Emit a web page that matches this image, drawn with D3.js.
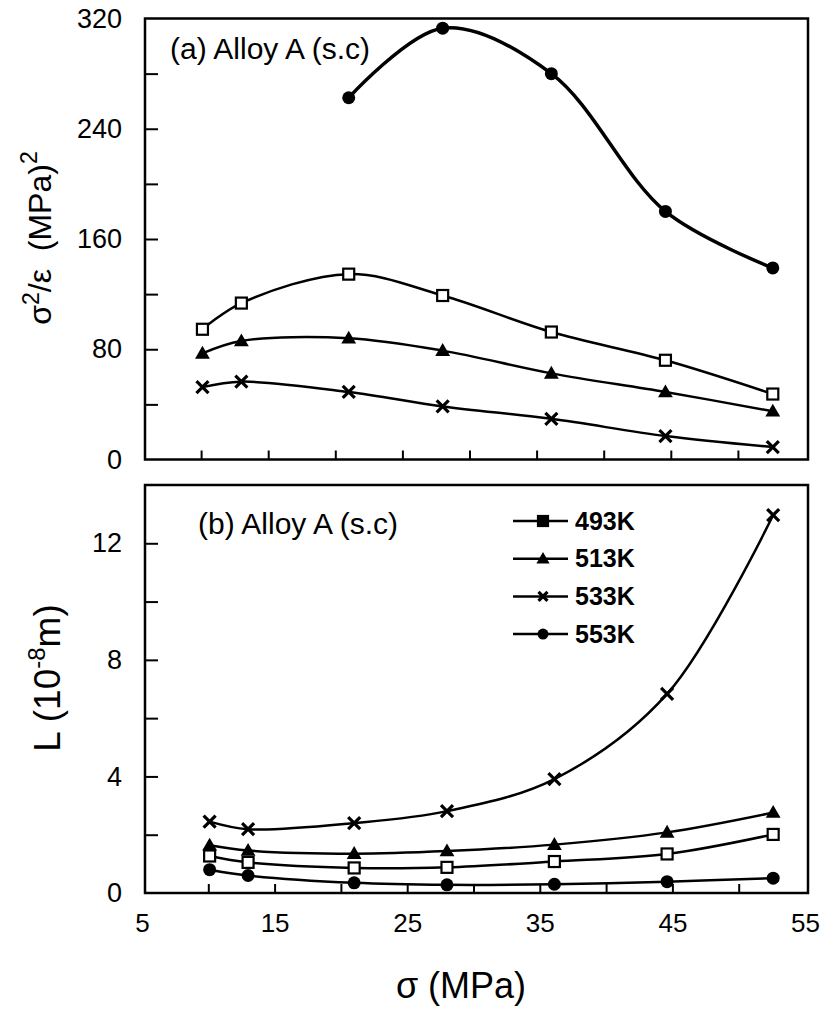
<!DOCTYPE html>
<html>
<head>
<meta charset="utf-8">
<script src="https://cdn.jsdelivr.net/npm/d3@7"></script>
<style>
  body { margin: 0; background: #fff; }
  text { font-family: "Liberation Sans", Arial, sans-serif; fill: #000; }
</style>
</head>
<body>
<div id="chart"></div>
<script>
// stress values (MPa)
var sigma = [10.1, 13.0, 21.0, 28.0, 36.1, 44.6, 52.6];
var series = ["493K", "513K", "533K", "553K"];

// (a) sigma^2 / epsilon  (MPa)^2
var ratio493 = [94.5, 113.5, 134.5, 119, 92.5, 72, 47.5];
var ratio513 = [77, 86, 88, 79, 62.5, 49, 35];
var ratio533 = [52.5, 56.5, 49, 38.5, 29.5, 17, 9];
var ratio553 = [null, null, 262.5, 313, 280, 180, 139];

// (b) L (10^-8 m)
var len493 = [1.27, 1.05, 0.86, 0.88, 1.08, 1.34, 2.01];
var len513 = [1.64, 1.46, 1.35, 1.44, 1.66, 2.08, 2.76];
var len533 = [2.45, 2.19, 2.40, 2.81, 3.91, 6.83, 12.97];
var len553 = [0.80, 0.60, 0.35, 0.28, 0.30, 0.39, 0.51];

var xTicks = [10, 15, 20, 25, 30, 35, 40, 45, 50];
var xLabels = [5, 15, 25, 35, 45, 55];
var ratioTicks = [40, 80, 120, 160, 200, 240, 280];
var ratioLabels = [0, 80, 160, 240, 320];
var lenTicks = [2, 4, 6, 8, 10, 12];
var lenLabels = [0, 4, 8, 12];

var width = 823, height = 1010;
var frame = { left: 145, right: 808 };

var svg = d3.select("#chart")
  .append("svg")
  .attr("width", width)
  .attr("height", height);

// marker shapes
function drawMarker(g, kind, x, y, legend) {
  if (kind === "square") {
    var s = legend ? 10 : 11;
    g.append("rect")
      .attr("x", x - s / 2).attr("y", y - s / 2)
      .attr("width", s).attr("height", s)
      .attr("fill", legend ? "#000" : "#fff")
      .attr("stroke", "#000").attr("stroke-width", 2.2);
  } else if (kind === "triangle") {
    g.append("path")
      .attr("transform", "translate(" + x + "," + (y + 1) + ")")
      .attr("d", d3.symbol().type(d3.symbolTriangle).size(legend ? 75 : 95)())
      .attr("fill", "#000");
  } else if (kind === "cross") {
    var r = legend ? 4.5 : 6;
    g.append("path")
      .attr("d", "M" + (x - r) + "," + (y - r) + "L" + (x + r) + "," + (y + r) +
                 "M" + (x - r) + "," + (y + r) + "L" + (x + r) + "," + (y - r))
      .attr("stroke", "#000").attr("stroke-width", 3.2).attr("fill", "none");
  } else {
    g.append("circle")
      .attr("cx", x).attr("cy", y).attr("r", legend ? 5.5 : 6.5)
      .attr("fill", "#000");
  }
}

var kinds = ["square", "triangle", "cross", "circle"];

function drawPanel(p) {
  var g = svg.append("g");
  var x = d3.scaleLinear().domain([5, 55]).range(p.xRange);
  var y = d3.scaleLinear().domain(p.yDomain).range([p.bottom, p.top]);

  // y ticks (inward) and labels
  var yAxis = g.append("g")
    .attr("transform", "translate(" + frame.left + ",0)")
    .call(d3.axisLeft(y).tickValues(p.yTicks).tickSize(-13).tickFormat(""));
  yAxis.select(".domain").remove();
  yAxis.selectAll("line").attr("stroke", "#000").attr("stroke-width", 2);

  var yLab = g.append("g")
    .attr("transform", "translate(" + frame.left + ",0)")
    .call(d3.axisLeft(y).tickValues(p.yLabels).tickSize(0).tickPadding(23));
  yLab.select(".domain").remove();
  yLab.selectAll("text").attr("font-size", 27).attr("font-family", "Liberation Sans, Arial, sans-serif");

  // x ticks (inward)
  var xAxis = g.append("g")
    .attr("transform", "translate(0," + p.bottom + ")")
    .call(d3.axisBottom(x).tickValues(xTicks).tickSize(-9).tickFormat(""));
  xAxis.select(".domain").remove();
  xAxis.selectAll("line").attr("stroke", "#000").attr("stroke-width", 2);

  if (p.xLabels) {
    var xLab = g.append("g")
      .attr("transform", "translate(0," + p.bottom + ")")
      .call(d3.axisBottom(x).tickValues(xLabels).tickSize(0).tickPadding(21));
    xLab.select(".domain").remove();
    xLab.selectAll("text").attr("font-size", 26).attr("font-family", "Liberation Sans, Arial, sans-serif");
  }

  // frame
  g.append("rect")
    .attr("x", frame.left).attr("y", p.top)
    .attr("width", frame.right - frame.left).attr("height", p.bottom - p.top)
    .attr("fill", "none").attr("stroke", "#000").attr("stroke-width", 2.5);

  // lines
  var line = d3.line()
    .defined(d => d.v != null)
    .x(d => x(d.s))
    .y(d => y(d.v))
    .curve(d3.curveCatmullRom.alpha(0.5));

  p.data.forEach(function(vals, i) {
    var pts = sigma.map((s, j) => ({ s: s, v: vals[j] })).filter(d => d.v != null);
    g.append("path")
      .attr("d", line(pts))
      .attr("fill", "none")
      .attr("stroke", "#000")
      .attr("stroke-width", p.widths[i]);
    pts.forEach(d => drawMarker(g, kinds[i], x(d.s), y(d.v), false));
  });

  // panel label
  g.append("text")
    .attr("x", p.labelPos[0]).attr("y", p.labelPos[1])
    .attr("font-size", 30)
    .text(p.label);

  return g;
}

drawPanel({
  top: 18.5, bottom: 459.5, xRange: [134, 805],
  yDomain: [0, 320], yTicks: ratioTicks, yLabels: ratioLabels,
  data: [ratio493, ratio513, ratio533, ratio553],
  widths: [2.5, 2.5, 2.5, 3.5],
  label: "(a) Alloy A (s.c)", labelPos: [170, 59],
  xLabels: false
});

drawPanel({
  top: 485, bottom: 893, xRange: [142, 805],
  yDomain: [0, 14], yTicks: lenTicks, yLabels: lenLabels,
  data: [len493, len513, len533, len553],
  widths: [2.5, 2.5, 2.5, 2.5],
  label: "(b) Alloy A (s.c)", labelPos: [198, 534],
  xLabels: true
});

// legend
var legend = svg.append("g");
series.forEach(function(name, i) {
  var cy = 521 + i * 37.7;
  legend.append("line")
    .attr("x1", 513).attr("x2", 568).attr("y1", cy).attr("y2", cy)
    .attr("stroke", "#000").attr("stroke-width", 2.5);
  drawMarker(legend, kinds[i], 543, cy, true);
  legend.append("text")
    .attr("x", 575).attr("y", cy + 8.5)
    .attr("font-size", 25).attr("font-weight", "bold")
    .text(name);
});

// axis titles
var t1 = svg.append("text")
  .attr("transform", "translate(51,238) rotate(-90)")
  .attr("text-anchor", "middle")
  .attr("font-size", 32);
t1.append("tspan").text("\u03C3");
t1.append("tspan").attr("font-size", 23).attr("dy", -12).text("2");
t1.append("tspan").attr("dy", 12).text("/\u03B5\u00A0\u00A0(MPa)");
t1.append("tspan").attr("font-size", 23).attr("dy", -14).text("2");

var t2 = svg.append("text")
  .attr("transform", "translate(60,678) rotate(-90)")
  .attr("text-anchor", "middle")
  .attr("font-size", 37);
t2.append("tspan").text("L (10");
t2.append("tspan").attr("font-size", 24).attr("dy", -15).text("-8");
t2.append("tspan").attr("dy", 15).text("m)");

svg.append("text")
  .attr("x", 461).attr("y", 998)
  .attr("text-anchor", "middle")
  .attr("font-size", 36)
  .text("\u03C3 (MPa)");
</script>
</body>
</html>
